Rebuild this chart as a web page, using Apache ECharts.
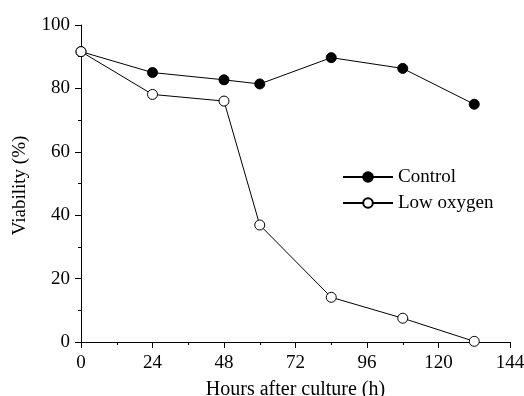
<!DOCTYPE html>
<html>
<head>
<meta charset="utf-8">
<script src="https://cdn.jsdelivr.net/npm/echarts@6/dist/echarts.min.js"></script>
<style>
  html, body { margin: 0; padding: 0; background: #fff; }
  #main { width: 524px; height: 396px; }
</style>
</head>
<body>
<div id="main"></div>
<script>
var hours = [0, 24, 48, 60, 84, 108, 132];
var control = [91.6, 85.0, 82.7, 81.4, 89.7, 86.3, 75.0];
var lowOxygen = [91.6, 78.1, 76.0, 36.9, 14.1, 7.5, 0.2];
var seriesNames = ['Control', 'Low oxygen'];

function pairs(xs, ys) {
  return xs.map(function (x, i) { return [x, ys[i]]; });
}

var font = 'Liberation Serif';
var chart = echarts.init(document.getElementById('main'));

var axisCommon = {
  axisLine: { show: true, lineStyle: { color: '#000', width: 1 } },
  axisTick: { show: true, inside: false, length: 6, lineStyle: { color: '#000' } },
  minorTick: { show: true, splitNumber: 2, length: 3, lineStyle: { color: '#000' } },
  splitLine: { show: false },
  axisLabel: { color: '#000', fontFamily: font, fontSize: 19 }
};

var option = {
  backgroundColor: '#fff',
  animation: false,
  grid: { left: 81, right: 14, top: 25, bottom: 54, containLabel: false, outerBoundsMode: 'none' },
  legend: {
    orient: 'vertical',
    left: 337,
    top: 162,
    itemWidth: 50,
    itemHeight: 12,
    itemGap: 6,
    textStyle: { color: '#000', fontFamily: font, fontSize: 19, lineHeight: 20 },
    data: seriesNames
  },
  xAxis: Object.assign({}, axisCommon, {
    type: 'value',
    min: 0,
    max: 144,
    interval: 24,
    name: 'Hours after culture (h)',
    nameLocation: 'middle',
    nameGap: 38,
    nameTextStyle: { color: '#000', fontFamily: font, fontSize: 20 },
    axisLabel: Object.assign({}, axisCommon.axisLabel, { margin: 12 })
  }),
  yAxis: Object.assign({}, axisCommon, {
    type: 'value',
    min: 0,
    max: 100,
    interval: 20,
    name: 'Viability (%)',
    nameLocation: 'middle',
    nameGap: 51,
    nameTextStyle: { color: '#000', fontFamily: font, fontSize: 19, padding: [0, 4, 0, 0] },
    axisLabel: Object.assign({}, axisCommon.axisLabel, { margin: 11 })
  }),
  series: [
    {
      name: seriesNames[0],
      type: 'line',
      data: pairs(hours, control),
      symbol: 'circle',
      symbolSize: 10,
      lineStyle: { color: '#000', width: 1 },
      itemStyle: { color: '#000', borderColor: '#000', borderWidth: 1 },
      clip: false
    },
    {
      name: seriesNames[1],
      type: 'line',
      data: pairs(hours, lowOxygen),
      symbol: 'circle',
      symbolSize: 10,
      lineStyle: { color: '#000', width: 1 },
      itemStyle: { color: '#fff', borderColor: '#000', borderWidth: 1 },
      clip: false
    }
  ]
};

chart.setOption(option);
</script>
</body>
</html>
